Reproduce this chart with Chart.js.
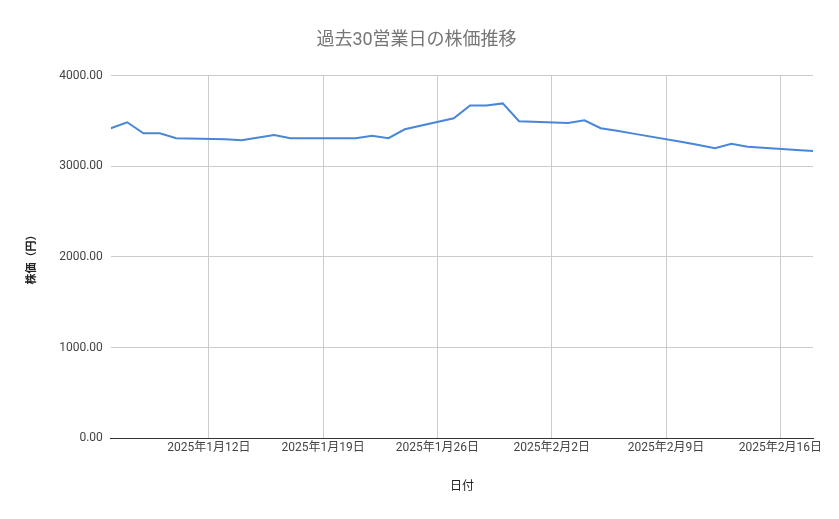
<!DOCTYPE html>
<html>
<head>
<meta charset="utf-8">
<script src="https://cdn.jsdelivr.net/npm/chart.js@4"></script>
<style>
  body { margin: 0; background: #fff; }
  #wrap { width: 839px; height: 519px; }
</style>
</head>
<body>
<div id="wrap"><canvas id="myChart"></canvas></div>
<script>
// 営業日（2025年）と終値
const dates = ['2025-01-06', '2025-01-07', '2025-01-08', '2025-01-09', '2025-01-10',
  '2025-01-13', '2025-01-14', '2025-01-16', '2025-01-17', '2025-01-21',
  '2025-01-22', '2025-01-23', '2025-01-24', '2025-01-27', '2025-01-28',
  '2025-01-29', '2025-01-30', '2025-01-31', '2025-02-03', '2025-02-04',
  '2025-02-05', '2025-02-06', '2025-02-07', '2025-02-10', '2025-02-11',
  '2025-02-12', '2025-02-13', '2025-02-14', '2025-02-17', '2025-02-18'];
const prices = [3419, 3485, 3364, 3364, 3310,
  3298, 3288, 3345, 3310, 3310,
  3335, 3310, 3408, 3529, 3671,
  3671, 3693, 3496, 3477, 3507,
  3419, 3392, 3360, 3268, 3234,
  3200, 3247, 3214, 3180, 3167];
const tickDates = ['2025-01-12', '2025-01-19', '2025-01-26', '2025-02-02', '2025-02-09', '2025-02-16'];
const yTicks = [0, 1000, 2000, 3000, 4000];

const base = Date.UTC(2025, 0, 6);
const toDay = s => (Date.parse(s + 'T00:00:00Z') - base) / 86400000;
const fmt = d => {
  const t = new Date(base + d * 86400000);
  return t.getUTCFullYear() + '年' + (t.getUTCMonth() + 1) + '月' + t.getUTCDate() + '日';
};

const grafico = new Chart(document.getElementById('myChart').getContext('2d'), {
  type: 'line',
  data: {
    datasets: [{
      data: dates.map((d, i) => ({ x: toDay(d), y: prices[i] })),
      borderColor: '#4a86d8',
      borderWidth: 2,
      pointRadius: 0,
      tension: 0
    }]
  },
  options: {
    responsive: true,
    maintainAspectRatio: false,
    animation: false,
    layout: { padding: { left: 20, right: 26, top: 6, bottom: 22 } },
    plugins: {
      legend: { display: false },
      tooltip: { enabled: false },
      title: {
        display: true,
        text: '過去30営業日の株価推移',
        color: '#757575',
        font: { family: 'Roboto, "Noto Sans CJK JP"', size: 18, weight: 'normal' },
        padding: { top: 24, bottom: 24 }
      }
    },
    scales: {
      x: {
        type: 'linear',
        min: 0,
        max: toDay('2025-02-18'),
        afterBuildTicks: ax => { ax.ticks = tickDates.map(d => ({ value: toDay(d) })); },
        ticks: {
          callback: v => fmt(v),
          color: '#444',
          maxRotation: 0,
          font: { family: 'Roboto, "Noto Sans CJK JP"', size: 12 }
        },
        grid: { color: '#cccccc', drawTicks: false },
        border: { color: '#333', width: 1 },
        title: {
          display: true, text: '日付', color: '#222',
          font: { family: '"Noto Sans CJK JP"', size: 12 }, padding: { top: 20 }
        }
      },
      y: {
        min: 0,
        max: 4000,
        afterBuildTicks: ax => { ax.ticks = yTicks.map(v => ({ value: v })); },
        ticks: {
          callback: v => v.toFixed(2),
          color: '#444',
          padding: 8,
          font: { family: 'Roboto', size: 12 }
        },
        grid: { color: '#cccccc', drawTicks: false },
        border: { display: false },
        title: {
          display: true, text: '株価（円）', color: '#222',
          font: { family: '"Noto Sans CJK JP"', size: 11, weight: 'bold' }, padding: { bottom: 14 }
        }
      }
    }
  }
});
</script>
</body>
</html>
